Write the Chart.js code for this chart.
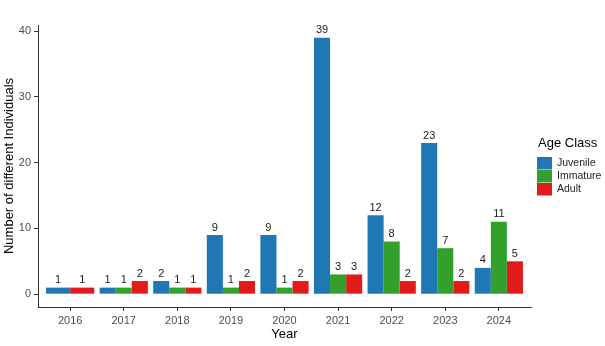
<!DOCTYPE html>
<html>
<head>
<meta charset="utf-8">
<script src="https://cdn.jsdelivr.net/npm/chart.js@4/dist/chart.umd.min.js"></script>
<style>
  html, body { margin: 0; padding: 0; background: #fff; }
  #wrap { width: 605px; height: 346px; }
</style>
</head>
<body>
<div id="wrap"><canvas id="c" width="605" height="346"></canvas></div>
<script>
// Individuals counted per year, split by age class
const years = [2016, 2017, 2018, 2019, 2020, 2021, 2022, 2023, 2024];
const juvenile = [1, 1, 2, 9, 9, 39, 12, 23, 4];
const immature = [null, 1, 1, 1, 1, 3, 8, 7, 11];
const adult = [1, 2, 1, 2, 2, 3, 2, 2, 5];
const yTicks = [0, 10, 20, 30, 40];

const seriesNames = ['Juvenile', 'Immature', 'Adult'];
const seriesColors = ['#1F78B4', '#33A02C', '#E31A1C'];
const seriesValues = [juvenile, immature, adult];

const FONT = "'Liberation Sans', Arial, sans-serif";
const AXIS_COLOR = '#333333';

const datasets = seriesNames.map((name, i) => ({
  label: name,
  data: years.map((y, j) => ({ x: y, y: seriesValues[i][j] })),
  backgroundColor: seriesColors[i],
  borderWidth: 0,
  categoryPercentage: 0.9,
  barPercentage: 1.0,
  skipNull: true
}));

// Value labels above each bar
const barLabels = {
  id: 'barLabels',
  afterDatasetsDraw(chart) {
    const ctx = chart.ctx;
    ctx.save();
    ctx.font = '11px ' + FONT;
    ctx.fillStyle = '#222222';
    ctx.textAlign = 'center';
    ctx.textBaseline = 'bottom';
    chart.data.datasets.forEach((ds, i) => {
      const meta = chart.getDatasetMeta(i);
      meta.data.forEach((el, j) => {
        const v = ds.data[j].y;
        if (v === null || v === undefined) return;
        ctx.fillText(String(v), el.x, el.y - 2);
      });
    });
    ctx.restore();
  }
};

// Legend drawn at the right of the plot, ggplot style
const sideLegend = {
  id: 'sideLegend',
  afterDraw(chart) {
    const ctx = chart.ctx;
    const x0 = 537;
    ctx.save();
    ctx.fillStyle = '#000000';
    ctx.font = '13px ' + FONT;
    ctx.textAlign = 'left';
    ctx.textBaseline = 'middle';
    ctx.fillText('Age Class', x0 + 1, 143);
    ctx.font = '10.5px ' + FONT;
    chart.data.datasets.forEach((ds, i) => {
      const ky = 157 + i * 13;
      ctx.fillStyle = ds.backgroundColor;
      ctx.fillRect(x0, ky, 15, 12.5);
      ctx.fillStyle = '#222222';
      ctx.fillText(ds.label, x0 + 20, ky + 6.5);
    });
    ctx.restore();
  }
};

new Chart(document.getElementById('c'), {
  type: 'bar',
  data: { datasets },
  options: {
    responsive: false,
    animation: false,
    layout: { padding: { top: 25, right: 74, left: 0, bottom: 0 } },
    plugins: {
      legend: { display: false },
      tooltip: { enabled: false }
    },
    scales: {
      x: {
        type: 'linear',
        offset: false,
        min: years[0] - 0.6,
        max: years[years.length - 1] + 0.6,
        afterBuildTicks: s => { s.ticks = years.map(v => ({ value: v })); },
        afterFit: s => { s.height = 39; },
        ticks: {
          color: '#4D4D4D',
          font: { family: FONT, size: 11 },
          padding: 3,
          maxRotation: 0,
          autoSkip: false,
          callback: v => String(v)
        },
        grid: { display: true, offset: false, drawOnChartArea: false, drawTicks: true, tickLength: 4, color: AXIS_COLOR },
        border: { display: true, color: AXIS_COLOR, width: 1 },
        title: {
          display: true,
          text: 'Year',
          color: '#000000',
          font: { family: FONT, size: 13 },
          padding: { top: 0, bottom: 4 }
        }
      },
      y: {
        min: -1.95,
        max: 40.95,
        afterBuildTicks: s => { s.ticks = yTicks.map(v => ({ value: v })); },
        afterFit: s => { s.width = 38; },
        ticks: {
          color: '#4D4D4D',
          font: { family: FONT, size: 11 },
          padding: 3
        },
        grid: { display: true, drawOnChartArea: false, drawTicks: true, tickLength: 4, color: AXIS_COLOR },
        border: { display: true, color: AXIS_COLOR, width: 1 },
        title: {
          display: true,
          text: 'Number of different Individuals',
          color: '#000000',
          font: { family: FONT, size: 13 },
          padding: { top: 2, bottom: 0 }
        }
      }
    }
  },
  plugins: [barLabels, sideLegend]
});
</script>
</body>
</html>
